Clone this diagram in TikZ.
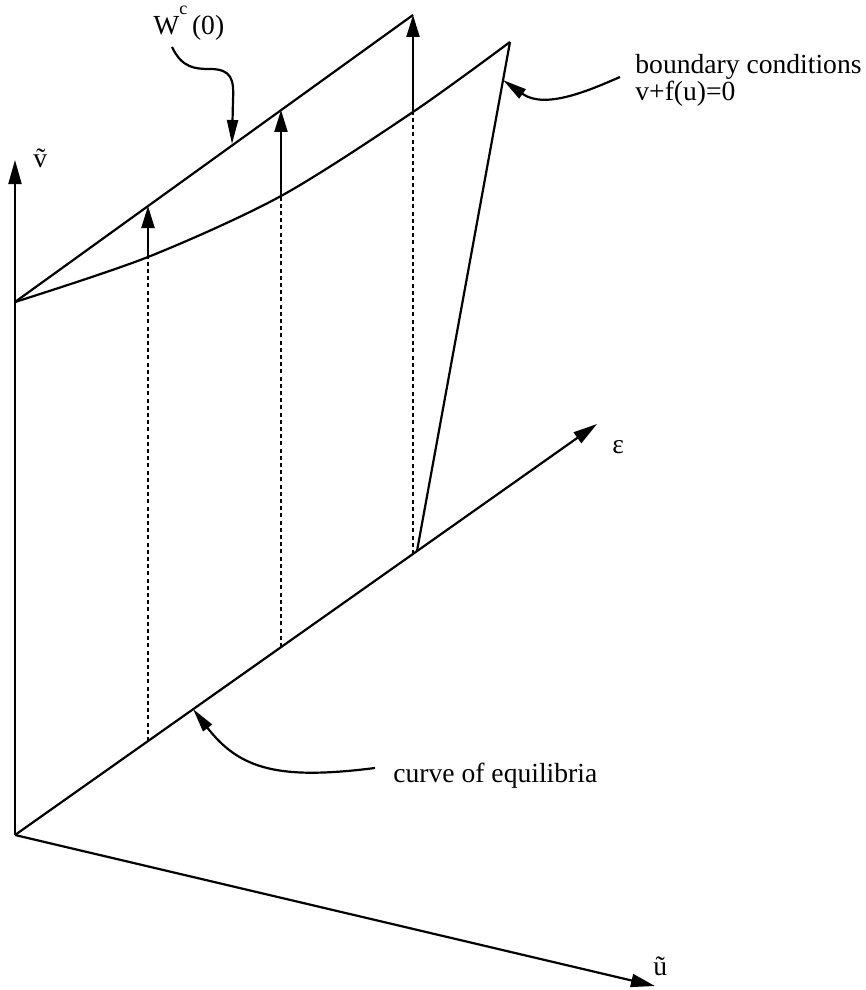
\documentclass[tikz,border=0pt]{standalone}
\usepackage{fontspec}
\setmainfont{Liberation Serif}
\usetikzlibrary{arrows.meta}

\begin{document}
\begin{tikzpicture}[x=0.5pt, y=-0.5pt,
    axis/.style={line width=1.1pt, -{Triangle[length=12pt, width=6.5pt]}},
    sheet/.style={line width=1.1pt},
    lift/.style={line width=1.1pt, -{Triangle[length=11pt, width=6.5pt]}},
    proj/.style={line width=1.1pt, dash pattern=on 2pt off 1.6pt},
    pointer/.style={line width=1.1pt, -{Triangle[length=12pt, width=5.5pt]}},
    lbl/.style={font=\fontsize{13.8}{13.5}\selectfont, inner sep=0pt, anchor=base west}
]
\useasboundingbox (0,0) rectangle (866,990);

% axes
\coordinate (O)    at (15,835);
\coordinate (vtip) at (15,160);
\coordinate (etip) at (597,424);
\coordinate (utip) at (655,986);
\draw[axis] (O) -- (vtip);
\draw[axis] (O) -- (etip);
\draw[axis] (O) -- (utip);
\node[lbl] (vlbl) at (33,167) {v\symbol{"0303}};
\node[lbl] (elbl) at (612,453) {ε};
\node[lbl] (ulbl) at (653,975) {ũ};

% center manifold and boundary
\coordinate (left)   at (15,302);
\coordinate (wtop)   at (413,15);
\coordinate (corner) at (510,42);
\coordinate (foot)   at (417,551);
\draw[sheet] (left) -- (wtop);
\draw[sheet] plot[smooth] coordinates {(15,302) (148,257) (281,196) (413,112) (510,42)};
\draw[sheet] (corner) -- (foot);

% lifts from the equilibria
\coordinate (e1) at (148,741); \coordinate (b1) at (148,257); \coordinate (w1) at (148,206);
\coordinate (e2) at (281,647); \coordinate (b2) at (281,196); \coordinate (w2) at (281,110);
\coordinate (e3) at (413,554); \coordinate (b3) at (413,112); \coordinate (w3) at (413,15);
\draw[proj] (e1) -- (b1);
\draw[proj] (e2) -- (b2);
\draw[proj] (e3) -- (b3);
\draw[lift] (b1) -- (w1);
\draw[lift] (b2) -- (w2);
\draw[lift] (b3) -- (w3);

% labels with pointers
\node[lbl] (wlbl) at (153,35) {W\raisebox{10pt}{\fontsize{9}{9}\selectfont c}\,(0)};
\coordinate (wpt) at (232,144);
\draw[pointer] (172,47) .. controls (182,68) and (195,69) .. (210,69)
    .. controls (232,69) and (234,80) .. (233,100) -- (wpt);

\node[lbl, align=left] (blbl) at (635,101) {boundary conditions\\v+f(u)=0};
\coordinate (bpt) at (503,80);
\draw[pointer] (620,77) .. controls (590,90) and (545,110) .. (bpt);

\node[lbl] (clbl) at (393,782) {curve of equilibria};
\coordinate (cpt) at (193,709);
\draw[pointer] (375,768) .. controls (280,780) and (240,770) .. (cpt);
\end{tikzpicture}
\end{document}
